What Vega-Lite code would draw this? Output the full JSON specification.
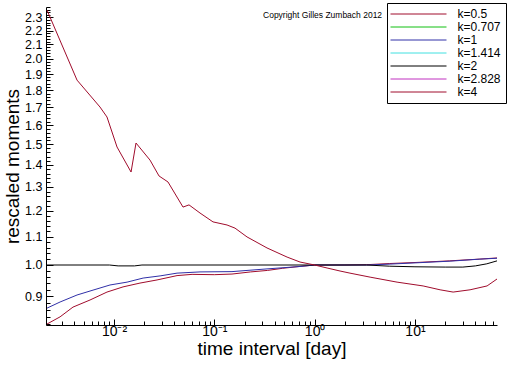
{
  "$schema": "https://vega.github.io/schema/vega-lite/v6.json",
  "width": 451,
  "height": 318,
  "autosize": {"type": "none"},
  "padding": {"left": 46, "top": 7, "right": 15, "bottom": 41},
  "background": "white",
  "config": {"view": {"stroke": null}, "font": "Liberation Sans"},
  "datasets": {
    "curves": [
      {"k": "k=0.5", "x": 0.00215, "y": 0.820},
      {"k": "k=0.5", "x": 0.0029, "y": 0.840},
      {"k": "k=0.5", "x": 0.0039, "y": 0.868},
      {"k": "k=0.5", "x": 0.00577, "y": 0.889},
      {"k": "k=0.5", "x": 0.00851, "y": 0.913},
      {"k": "k=0.5", "x": 0.0123, "y": 0.929},
      {"k": "k=0.5", "x": 0.01815, "y": 0.941},
      {"k": "k=0.5", "x": 0.02685, "y": 0.951},
      {"k": "k=0.5", "x": 0.0425, "y": 0.965},
      {"k": "k=0.5", "x": 0.06, "y": 0.969},
      {"k": "k=0.5", "x": 0.1, "y": 0.968},
      {"k": "k=0.5", "x": 0.15, "y": 0.970},
      {"k": "k=0.5", "x": 0.23, "y": 0.977},
      {"k": "k=0.5", "x": 0.34, "y": 0.982},
      {"k": "k=0.5", "x": 0.48, "y": 0.989},
      {"k": "k=0.5", "x": 0.7, "y": 0.995},
      {"k": "k=0.5", "x": 1.0, "y": 1.0},
      {"k": "k=0.5", "x": 2.0, "y": 1.0},
      {"k": "k=0.5", "x": 3.3, "y": 1.001},
      {"k": "k=0.5", "x": 5.6, "y": 1.005},
      {"k": "k=0.5", "x": 11, "y": 1.009},
      {"k": "k=0.5", "x": 22, "y": 1.014},
      {"k": "k=0.5", "x": 44, "y": 1.020},
      {"k": "k=0.5", "x": 65.7, "y": 1.024},
      {"k": "k=1", "x": 0.00215, "y": 0.865},
      {"k": "k=1", "x": 0.0029, "y": 0.883},
      {"k": "k=1", "x": 0.00428, "y": 0.904},
      {"k": "k=1", "x": 0.00618, "y": 0.919},
      {"k": "k=1", "x": 0.00912, "y": 0.935},
      {"k": "k=1", "x": 0.0135, "y": 0.944},
      {"k": "k=1", "x": 0.0195, "y": 0.957},
      {"k": "k=1", "x": 0.0288, "y": 0.964},
      {"k": "k=1", "x": 0.0425, "y": 0.973},
      {"k": "k=1", "x": 0.072, "y": 0.977},
      {"k": "k=1", "x": 0.15, "y": 0.978},
      {"k": "k=1", "x": 0.335, "y": 0.987},
      {"k": "k=1", "x": 0.715, "y": 0.995},
      {"k": "k=1", "x": 1.0, "y": 1.0},
      {"k": "k=1", "x": 3.3, "y": 1.0},
      {"k": "k=1", "x": 5.65, "y": 1.003},
      {"k": "k=1", "x": 11.25, "y": 1.008},
      {"k": "k=1", "x": 22.4, "y": 1.013},
      {"k": "k=1", "x": 44.6, "y": 1.020},
      {"k": "k=1", "x": 65.7, "y": 1.023},
      {"k": "k=2", "x": 0.00215, "y": 1.0},
      {"k": "k=2", "x": 0.009, "y": 1.0},
      {"k": "k=2", "x": 0.011, "y": 0.997},
      {"k": "k=2", "x": 0.016, "y": 0.997},
      {"k": "k=2", "x": 0.019, "y": 1.0},
      {"k": "k=2", "x": 1.0, "y": 1.0},
      {"k": "k=2", "x": 3.3, "y": 1.0},
      {"k": "k=2", "x": 5.6, "y": 0.996},
      {"k": "k=2", "x": 10, "y": 0.994},
      {"k": "k=2", "x": 20, "y": 0.993},
      {"k": "k=2", "x": 30, "y": 0.993},
      {"k": "k=2", "x": 40, "y": 0.997},
      {"k": "k=2", "x": 52, "y": 1.004},
      {"k": "k=2", "x": 65.7, "y": 1.014},
      {"k": "k=4", "x": 0.00215, "y": 2.356},
      {"k": "k=4", "x": 0.00428, "y": 1.862},
      {"k": "k=4", "x": 0.00725, "y": 1.701},
      {"k": "k=4", "x": 0.00851, "y": 1.645},
      {"k": "k=4", "x": 0.01072, "y": 1.487},
      {"k": "k=4", "x": 0.01479, "y": 1.367},
      {"k": "k=4", "x": 0.01657, "y": 1.507},
      {"k": "k=4", "x": 0.02285, "y": 1.423},
      {"k": "k=4", "x": 0.02811, "y": 1.349},
      {"k": "k=4", "x": 0.03453, "y": 1.322},
      {"k": "k=4", "x": 0.04873, "y": 1.215},
      {"k": "k=4", "x": 0.05593, "y": 1.224},
      {"k": "k=4", "x": 0.072, "y": 1.191},
      {"k": "k=4", "x": 0.097, "y": 1.156},
      {"k": "k=4", "x": 0.1339, "y": 1.144},
      {"k": "k=4", "x": 0.1608, "y": 1.132},
      {"k": "k=4", "x": 0.2118, "y": 1.099},
      {"k": "k=4", "x": 0.335, "y": 1.059},
      {"k": "k=4", "x": 0.531, "y": 1.027},
      {"k": "k=4", "x": 0.715, "y": 1.010},
      {"k": "k=4", "x": 1.0, "y": 1.0},
      {"k": "k=4", "x": 1.33, "y": 0.990},
      {"k": "k=4", "x": 1.79, "y": 0.980},
      {"k": "k=4", "x": 2.25, "y": 0.973},
      {"k": "k=4", "x": 3.57, "y": 0.960},
      {"k": "k=4", "x": 6.63, "y": 0.944},
      {"k": "k=4", "x": 12.05, "y": 0.932},
      {"k": "k=4", "x": 17.8, "y": 0.920},
      {"k": "k=4", "x": 24.0, "y": 0.913},
      {"k": "k=4", "x": 35.4, "y": 0.920},
      {"k": "k=4", "x": 52.3, "y": 0.932},
      {"k": "k=4", "x": 65.7, "y": 0.954}
    ],
    "notes": [
      {"x": 0.3058, "y": 2.317, "label": "Copyright Gilles Zumbach 2012"}
    ]
  },
  "resolve": {"axis": {"x": "independent", "y": "independent"}},
  "layer": [
    {
      "data": {"name": "curves"},
      "mark": {"type": "line", "strokeWidth": 1, "clip": true},
      "encoding": {
        "x": {
          "field": "x",
          "type": "quantitative",
          "scale": {"type": "log", "domain": [0.0021, 65.7], "nice": false},
          "axis": {
            "orient": "bottom",
            "title": "time interval [day]",
            "titleFontSize": 19,
            "titleFontWeight": "normal",
            "titleColor": "black",
            "titleX": 225.5,
            "titleY": 29,
            "titleBaseline": "alphabetic",
            "titleAlign": "center",
            "values": [0.01, 0.1, 1, 10],
            "labelExpr": "datum.value == 0.01 ? '10⁻²' : datum.value == 0.1 ? '10⁻¹' : datum.value == 1 ? '10⁰' : '10¹'",
            "labelFontSize": 14,
            "labelColor": "black",
            "labelOverlap": false,
            "labelFlush": false,
            "labelPadding": 5,
            "domainColor": "black",
            "tickColor": "black",
            "tickSize": -6,
            "grid": false
          }
        },
        "y": {
          "field": "y",
          "type": "quantitative",
          "scale": {"type": "log", "domain": [0.8173, 2.381], "nice": false},
          "axis": {
            "orient": "left",
            "title": "rescaled moments",
            "titleFontSize": 19,
            "titleFontWeight": "normal",
            "titleColor": "black",
            "titleX": -34,
            "titleY": 159,
            "titleAngle": -90,
            "titleAlign": "center",
            "titleBaseline": "middle",
            "values": [0.9, 1.0, 1.1, 1.2, 1.3, 1.4, 1.5, 1.6, 1.7, 1.8, 1.9, 2.0, 2.1, 2.2, 2.3],
            "format": ".1f",
            "labelFontSize": 12.5,
            "labelColor": "black",
            "labelOverlap": false,
            "labelFlush": false,
            "labelPadding": 11,
            "domainColor": "black",
            "tickColor": "black",
            "tickSize": -7,
            "grid": false
          }
        },
        "color": {
          "field": "k",
          "type": "nominal",
          "scale": {
            "domain": ["k=0.5", "k=0.707", "k=1", "k=1.414", "k=2", "k=2.828", "k=4"],
            "range": ["#a00c2c", "#10c010", "#3030a8", "#40e0e0", "#000000", "#c030c0", "#a00c2c"]
          },
          "legend": {
            "orient": "none",
            "legendX": 341,
            "legendY": -4,
            "title": null,
            "symbolType": "M-1.5,0L9.7,0",
            "symbolSize": 100,
            "symbolStrokeWidth": 1,
            "labelFontSize": 12,
            "labelColor": "black",
            "labelOffset": 53.5,
            "strokeColor": "black",
            "fillColor": "white",
            "padding": 5,
            "rowPadding": 1,
            "encode": {
              "symbols": {
                "update": {
                  "stroke": {"scale": "color", "field": "value"},
                  "strokeWidth": {"value": 1},
                  "opacity": {"value": 1}
                }
              }
            }
          }
        }
      }
    },
    {
      "data": {"name": "notes"},
      "mark": {"type": "text", "align": "left", "baseline": "middle", "fontSize": 8.5, "color": "black"},
      "encoding": {
        "x": {
          "field": "x",
          "type": "quantitative",
          "scale": {"type": "log", "domain": [0.0021, 65.7], "nice": false},
          "axis": {
            "orient": "bottom",
            "title": null,
            "values": [0.003, 0.004, 0.005, 0.006, 0.007, 0.008, 0.009, 0.02, 0.03, 0.04, 0.05, 0.06, 0.07, 0.08, 0.09, 0.2, 0.3, 0.4, 0.5, 0.6, 0.7, 0.8, 0.9, 2, 3, 4, 5, 6, 7, 8, 9, 20, 30, 40, 50, 60],
            "labels": false,
            "domain": false,
            "grid": false,
            "tickColor": "black",
            "tickSize": -4
          }
        },
        "y": {
          "field": "y",
          "type": "quantitative",
          "scale": {"type": "log", "domain": [0.8173, 2.381], "nice": false},
          "axis": {
            "orient": "left",
            "title": null,
            "values": [0.82, 0.84, 0.86, 0.88, 0.92, 0.94, 0.96, 0.98, 1.02, 1.04, 1.06, 1.08, 1.12, 1.14, 1.16, 1.18, 1.22, 1.24, 1.26, 1.28, 1.32, 1.34, 1.36, 1.38, 1.42, 1.44, 1.46, 1.48, 1.52, 1.54, 1.56, 1.58, 1.62, 1.64, 1.66, 1.68, 1.72, 1.74, 1.76, 1.78, 1.82, 1.84, 1.86, 1.88, 1.92, 1.94, 1.96, 1.98, 2.02, 2.04, 2.06, 2.08, 2.12, 2.14, 2.16, 2.18, 2.22, 2.24, 2.26, 2.28, 2.32, 2.34, 2.36, 2.38],
            "labels": false,
            "domain": false,
            "grid": false,
            "tickColor": "black",
            "tickSize": -4
          }
        },
        "text": {"field": "label"}
      }
    }
  ]
}
